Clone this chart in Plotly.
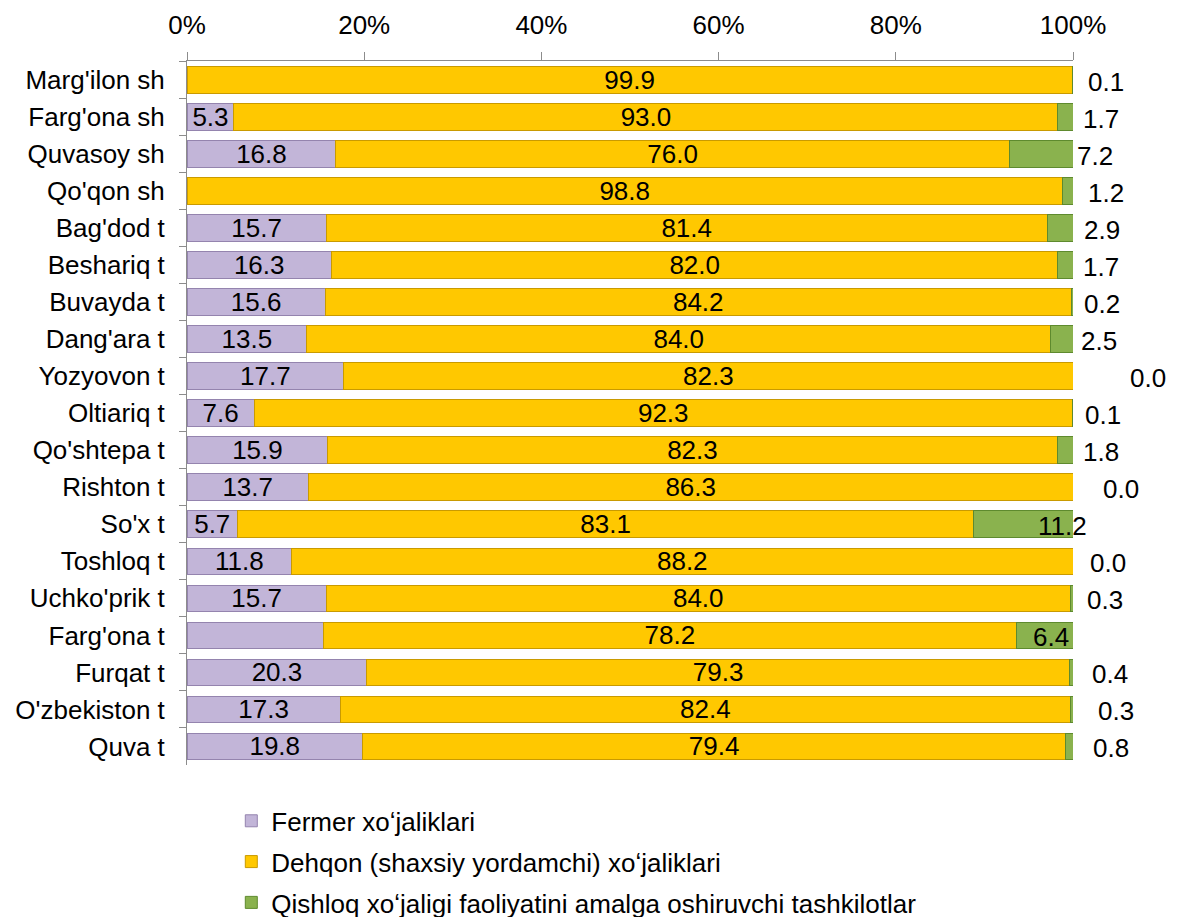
import plotly.graph_objects as go

categories = ["Marg'ilon sh", "Farg'ona sh", "Quvasoy sh", "Qo'qon sh", "Bag'dod t",
              "Beshariq t", "Buvayda t", "Dang'ara t", "Yozyovon t", "Oltiariq t",
              "Qo'shtepa t", "Rishton t", "So'x t", "Toshloq t", "Uchko'prik t",
              "Farg'ona t", "Furqat t", "O'zbekiston t", "Quva t"]

fermer = [0.0, 5.3, 16.8, 0.0, 15.7, 16.3, 15.6, 13.5, 17.7, 7.6,
          15.9, 13.7, 5.7, 11.8, 15.7, 15.4, 20.3, 17.3, 19.8]
dehqon = [99.9, 93.0, 76.0, 98.8, 81.4, 82.0, 84.2, 84.0, 82.3, 92.3,
          82.3, 86.3, 83.1, 88.2, 84.0, 78.2, 79.3, 82.4, 79.4]
tashkilot = [0.1, 1.7, 7.2, 1.2, 2.9, 1.7, 0.2, 2.5, 0.0, 0.1,
             1.8, 0.0, 11.2, 0.0, 0.3, 6.4, 0.4, 0.3, 0.8]

series_names = ["Fermer xoʻjaliklari",
                "Dehqon (shaxsiy yordamchi) xoʻjaliklari",
                "Qishloq xoʻjaligi faoliyatini amalga oshiruvchi tashkilotlar"]

tick_vals = [0, 20, 40, 60, 80, 100]
tick_text = ["0%", "20%", "40%", "60%", "80%", "100%"]

# label placement for the third series (in axis % units), as in the original
green_label_x = [103.7, 103.2, 102.5, 103.7, 103.3, 103.2, 103.3, 102.9, 108.5, 103.4,
                 103.2, 105.4, 98.8, 103.9, 103.6, 97.5, 104.2, 104.9, 104.3]
hidden_fermer_labels = {"Farg'ona t"}

FONT = "Liberation Sans, Arial, sans-serif"
FS = 26
X_MAX = 100.0

colors = ["#C2B5D8", "#FFC800", "#8AB24E"]
edge = ["#9484AE", "#C99A00", "#5E8A2E"]

fermer_text = [("" if (v == 0 or c in hidden_fermer_labels) else f"{v:.1f}")
               for c, v in zip(categories, fermer)]
dehqon_text = [f"{v:.1f}" for v in dehqon]

fig = go.Figure()
fig.add_trace(go.Bar(
    y=categories, x=fermer, orientation="h", name=series_names[0],
    marker=dict(color=colors[0], line=dict(color=edge[0], width=1)),
    text=fermer_text, textposition="inside", insidetextanchor="middle",
    constraintext="none",
    textfont=dict(family=FONT, size=FS, color="black"), textangle=0,
    legendgroup="a", hoverinfo="x+y"))
fig.add_trace(go.Bar(
    y=categories, x=dehqon, orientation="h", name=series_names[1],
    marker=dict(color=colors[1], line=dict(color=edge[1], width=1)),
    text=dehqon_text, textposition="inside", insidetextanchor="middle",
    constraintext="none",
    textfont=dict(family=FONT, size=FS, color="black"), textangle=0,
    legendgroup="b", hoverinfo="x+y"))
fig.add_trace(go.Bar(
    y=categories, x=tashkilot, orientation="h", name=series_names[2],
    marker=dict(color=colors[2], line=dict(color=edge[2], width=1)),
    legendgroup="c", hoverinfo="x+y"))

for c, v, gx in zip(categories, tashkilot, green_label_x):
    fig.add_annotation(x=gx / X_MAX, y=c, xref="paper", yref="y", text=f"{v:.1f}",
                       showarrow=False, yshift=-2, xanchor="center", yanchor="middle",
                       font=dict(family=FONT, size=FS, color="black"))

# page body has an 8px margin, so the figure is sized/offset to compensate
fig.update_layout(
    width=1170, height=909,
    paper_bgcolor="white", plot_bgcolor="white",
    barmode="stack", bargap=0.28,
    margin=dict(l=179, r=105, t=53, b=152, autoexpand=False),
    font=dict(family=FONT, size=FS, color="black"),
    showlegend=True,
    legend=dict(x=0.05, y=-0.046, xanchor="left", yanchor="top",
                orientation="v", traceorder="grouped", tracegroupgap=4,
                font=dict(family=FONT, size=FS, color="black"),
                itemwidth=30, bgcolor="rgba(0,0,0,0)"),
    xaxis=dict(range=[0, X_MAX], side="top", tickvals=tick_vals, ticktext=tick_text,
               showgrid=False, zeroline=False, showline=True, linecolor="#8C8C8C",
               linewidth=1, ticks="outside", ticklen=8, tickcolor="#8C8C8C",
               ticklabelstandoff=8, tickfont=dict(family=FONT, size=FS, color="black")),
    yaxis=dict(categoryorder="array", categoryarray=categories, autorange="reversed",
               showgrid=False, zeroline=False, showline=True, linecolor="#8C8C8C",
               linewidth=1, ticks="outside", ticklen=7, tickcolor="#8C8C8C",
               tickson="boundaries", ticklabelstandoff=16,
               tickfont=dict(family=FONT, size=FS, color="black")),
)

fig.write_html("out.html")
